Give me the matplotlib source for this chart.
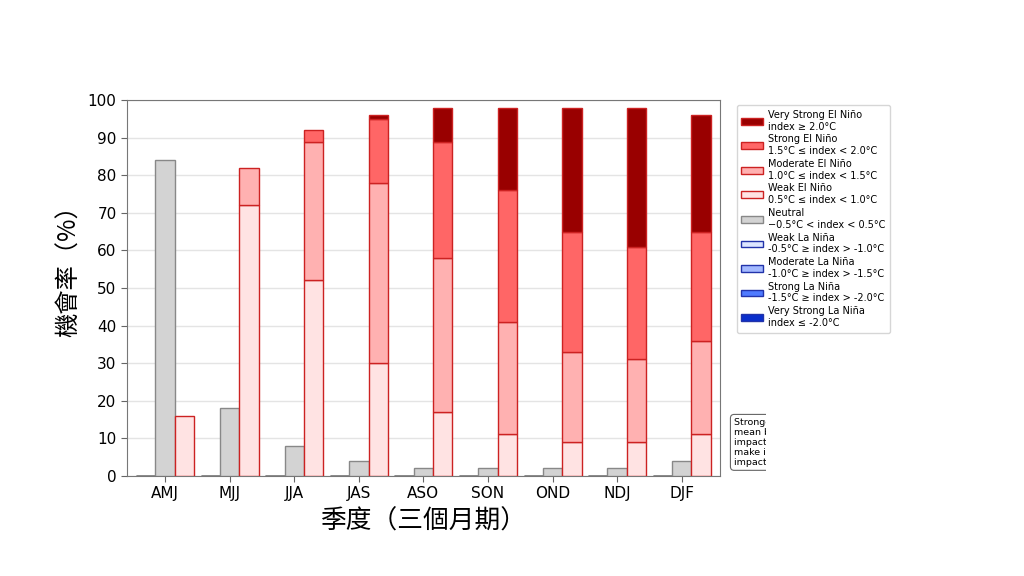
import numpy as np
import matplotlib
matplotlib.use('Agg')
import matplotlib.pyplot as plt
from matplotlib.patches import Patch
from matplotlib.transforms import Bbox

plt.rcParams['font.family'] = ['DejaVu Sans', 'Noto Sans CJK TC']

seasons = ['AMJ', 'MJJ', 'JJA', 'JAS', 'ASO', 'SON', 'OND', 'NDJ', 'DJF']

# probabilities (%)
neutral = [84, 18, 8, 4, 2, 2, 2, 2, 4]
weak_nino = [16, 72, 52, 30, 17, 11, 9, 9, 11]
mod_nino = [0, 10, 37, 48, 41, 30, 24, 22, 25]
strong_nino = [0, 0, 3, 17, 31, 35, 32, 30, 29]
vstrong_nino = [0, 0, 0, 1, 9, 22, 33, 37, 31]
weak_nina = [0, 0, 0, 0, 0, 0, 0, 0, 0]
mod_nina = [0, 0, 0, 0, 0, 0, 0, 0, 0]
strong_nina = [0, 0, 0, 0, 0, 0, 0, 0, 0]
vstrong_nina = [0, 0, 0, 0, 0, 0, 0, 0, 0]

nino_labels = ['Very Strong El Niño\nindex ≥ 2.0°C',
               'Strong El Niño\n1.5°C ≤ index < 2.0°C',
               'Moderate El Niño\n1.0°C ≤ index < 1.5°C',
               'Weak El Niño\n0.5°C ≤ index < 1.0°C']
neutral_label = 'Neutral\n\u22120.5°C < index < 0.5°C'
nina_labels = ['Weak La Niña\n-0.5°C ≥ index > -1.0°C',
               'Moderate La Niña\n-1.0°C ≥ index > -1.5°C',
               'Strong La Niña\n-1.5°C ≥ index > -2.0°C',
               'Very Strong La Niña\nindex ≤ -2.0°C']

nino_colors = ['#ffe3e3', '#ffb1b1', '#ff6666', '#990000']
nina_colors = ['#dde6ff', '#a3b9ff', '#4f7bff', '#0a2fcc']
nino_edge = '#cc2222'
nina_edge = '#2233aa'

x = np.arange(len(seasons))
w = 0.3

fig = plt.figure(figsize=(10.24, 5.76), dpi=100)
ax = fig.add_axes([0.124, 0.174, 0.579, 0.652])

# La Nina stack
bottom = np.zeros(len(seasons))
for vals, c in zip([weak_nina, mod_nina, strong_nina, vstrong_nina], nina_colors):
    ax.bar(x - w, vals, w, bottom=bottom, color=c, edgecolor='#444444', linewidth=1, zorder=3)
    bottom += np.array(vals)

# Neutral
ax.bar(x, neutral, w, color='#d3d3d3', edgecolor='#888888', linewidth=1, zorder=3)

# El Nino stack
bottom = np.zeros(len(seasons))
for vals, c in zip([weak_nino, mod_nino, strong_nino, vstrong_nino], nino_colors):
    v = np.array(vals)
    ax.bar(x + w, np.where(v > 0, v, np.nan), w, bottom=bottom, color=c,
           edgecolor=nino_edge, linewidth=1, zorder=3)
    bottom += v

ax.set_ylim(0, 100)
ax.set_xlim(-0.59, 8.59)
ax.set_yticks(range(0, 101, 10))
ax.set_xticks(x)
ax.set_xticklabels(seasons)
ax.tick_params(axis='both', labelsize=11, colors='black', length=4)
ax.tick_params(axis='both', color='#666666')
ax.yaxis.grid(True, color='#e4e4e4', linewidth=1, zorder=0)
ax.set_axisbelow(True)
for s in ax.spines.values():
    s.set_color('#777777')

cjk = ['Noto Sans CJK TC', 'DejaVu Sans']
ax.set_ylabel('機會率（%）', fontsize=17.5, family=cjk)
ax.yaxis.set_label_coords(-0.076, 0.56)
ax.set_xlabel('季度（三個月期）', fontsize=18.5, family=cjk, labelpad=5)

handles = []
for lab, c in zip(nino_labels, nino_colors[::-1]):
    handles.append(Patch(facecolor=c, edgecolor=nino_edge, label=lab))
handles.append(Patch(facecolor='#d3d3d3', edgecolor='#888888', label=neutral_label))
for lab, c in zip(nina_labels, nina_colors):
    handles.append(Patch(facecolor=c, edgecolor=nina_edge, label=lab))

ax.legend(handles=handles, loc='upper left', bbox_to_anchor=(1.02, 1.0), fontsize=7,
          frameon=True, edgecolor='#cccccc', fancybox=True, handlelength=2.2,
          handletextpad=0.5, labelspacing=0.3, borderpad=0.5)

note = ('Stronger El Niño events do not always\n'
        'mean bigger local effects; regional\n'
        'impacts depend on other factors that\n'
        'make it hard to foresee the\n'
        'impacts of each event.')
t = fig.text(0.717, 0.19, note, fontsize=6.8, ha='left', va='bottom', linespacing=1.12,
             bbox=dict(boxstyle='round,pad=0.4', facecolor='white', edgecolor='#666666', linewidth=0.8))
t.set_clip_box(Bbox.from_extents(0, 0, 766, 576))
t.set_clip_on(True)

fig.savefig('out.png', dpi=100)
